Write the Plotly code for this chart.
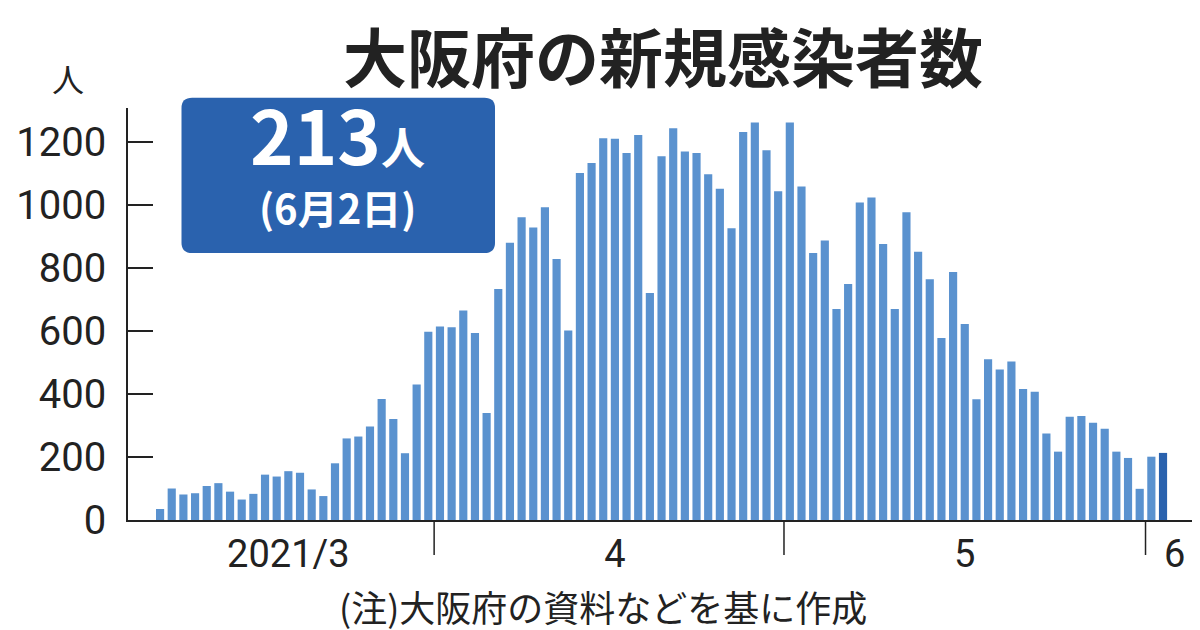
import pandas as pd
import plotly.graph_objects as go

# daily new cases, Osaka, 2021-03-08 .. 2021-06-02
march = [35, 100, 81, 85, 108, 117, 90, 65, 83, 144, 138, 155, 150, 97, 76, 180,
         259, 265, 297, 384, 321, 212, 430, 598]
april = [614, 612, 665, 594, 340, 733, 880, 961, 929, 993, 829, 602, 1102, 1133, 1212,
         1210, 1165, 1222, 721, 1155, 1244, 1170, 1165, 1098, 1052, 926, 1232, 1262, 1174, 1044]
may = [1262, 1059, 848, 887, 670, 749, 1008, 1024, 876, 670, 977, 852, 764, 578, 787,
       622, 383, 510, 478, 503, 416, 407, 275, 217, 328, 330, 309, 290, 217, 197, 99]
june = [201, 213]

cases = march + april + may + june
dates = pd.date_range("2021-03-08", periods=len(cases), freq="D")
colors = ["#5a92cf"] * (len(cases) - 1) + ["#2a62ae"]

month_labels = ["2021/3", "4", "5", "6"]
label_pos = ["2021-03-19", "2021-04-16", "2021-05-16", "2021-06-03"]
boundaries = ["2021-03-31 12:00", "2021-04-30 12:00", "2021-05-31 12:00"]

fig = go.Figure(go.Bar(x=dates, y=cases, marker_color=colors, marker_line_width=0))

JP = "Noto Sans CJK JP"
NUM = "Liberation Sans Narrow, Roboto"

fig.update_layout(
    width=1200, height=630,
    margin=dict(l=120, r=10, t=100, b=118),
    plot_bgcolor="white", paper_bgcolor="white",
    bargap=0.3, showlegend=False,
    xaxis=dict(
        type="date", range=["2021-03-05 06:00", "2021-06-05"],
        showline=True, linecolor="#222", linewidth=1.5,
        tickvals=label_pos, ticktext=month_labels, ticks="", ticklen=0,
        tickfont=dict(family=NUM, size=38, color="#222"), showgrid=False,
    ),
    yaxis=dict(
        range=[0, 1308], tickvals=[0, 200, 400, 600, 800, 1000, 1200],
        showline=True, linecolor="#222", linewidth=1.5,
        ticks="inside", ticklen=25, tickcolor="#222", tickwidth=1.5,
        ticklabelstandoff=12, automargin=False,
        tickfont=dict(family=NUM, size=40, color="#222"), showgrid=False,
    ),
)

for b in boundaries:
    fig.add_shape(type="line", xref="x", yref="paper", x0=b, x1=b, y0=0, y1=-0.085,
                  line=dict(color="#222", width=1.5))

fig.add_annotation(text="<b>大阪府の新規感染者数</b>", xref="paper", yref="paper",
                   x=0.5, y=1.0, xanchor="center", yanchor="bottom", yshift=6,
                   showarrow=False, font=dict(family=JP, size=64, color="#222"))
fig.add_annotation(text="人", xref="paper", yref="paper", x=0, y=1, xanchor="right",
                   yanchor="bottom", xshift=-42, yshift=5, showarrow=False,
                   font=dict(family=JP, size=32, color="#222"))
fig.add_annotation(text="(注)大阪府の資料などを基に作成", xref="paper", yref="paper",
                   x=0.5, y=0, xanchor="center", yanchor="top", xshift=-60, yshift=-58,
                   showarrow=False, font=dict(family=JP, size=36, color="#222"))

# highlight box
fig.add_shape(type="path", xref="paper", yref="paper",
              path="M 0.06 1.025 L 0.333 1.025 Q 0.343 1.025 0.343 1.0 L 0.343 0.673 Q 0.343 0.648 0.333 0.648 "
                   "L 0.06 0.648 Q 0.05 0.648 0.05 0.673 L 0.05 1.0 Q 0.05 1.025 0.06 1.025 Z",
              fillcolor="#2a62ae", line=dict(width=0))
fig.add_annotation(text="<b>213<span style='font-size:44px'>人</span></b>",
                   xref="paper", yref="paper", x=0.196, y=0.94, xanchor="center",
                   yanchor="middle", showarrow=False,
                   font=dict(family=JP, size=74, color="white"))
fig.add_annotation(text="<b>(6月2日)</b>", xref="paper", yref="paper", x=0.196, y=0.76,
                   xanchor="center", yanchor="middle", showarrow=False,
                   font=dict(family=JP, size=40, color="white"))

fig.write_html("out.html")
